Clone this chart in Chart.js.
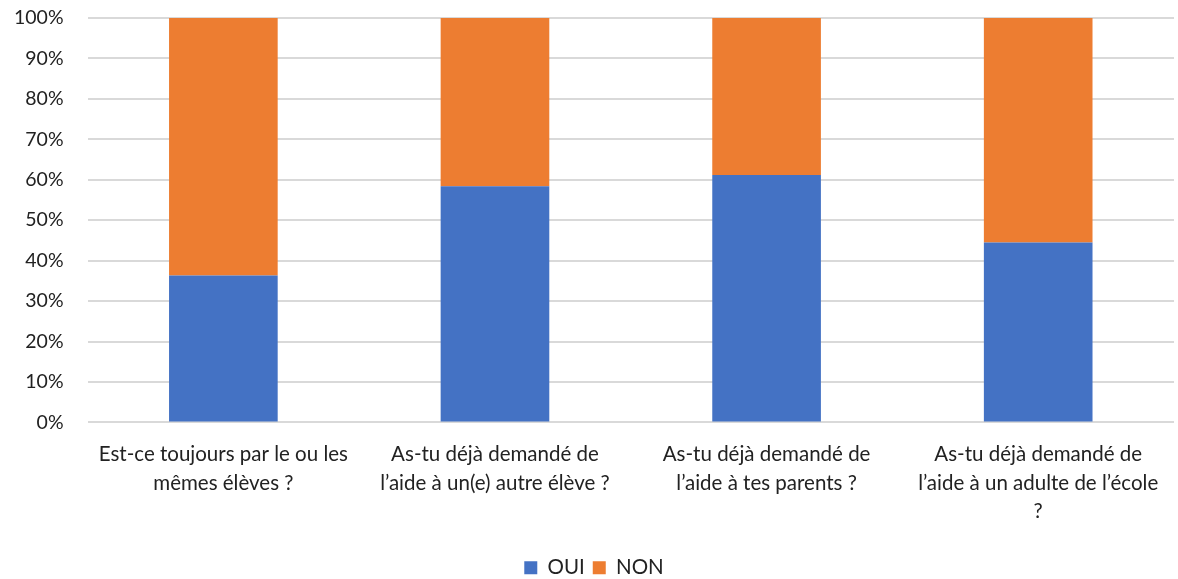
<!DOCTYPE html>
<html>
<head>
<meta charset="utf-8">
<script src="https://cdn.jsdelivr.net/npm/chart.js@4"></script>
<style>
  html, body { margin:0; padding:0; background:#fff; }
  #wrap { width:1178px; height:579px; }
</style>
</head>
<body>
<div id="wrap"><canvas id="chart"></canvas></div>
<script>
const labels = [
  ["Est-ce toujours par le ou les", "mêmes élèves ?"],
  ["As-tu déjà demandé de", "l’aide à un(e) autre élève ?"],
  ["As-tu déjà demandé de", "l’aide à tes parents ?"],
  ["As-tu déjà demandé de", "l’aide à un adulte de l’école", "?"],
];
const oui = [36.3, 58.4, 61.2, 44.5];
const non = oui.map(v => 100 - v);

const family = "Lato, 'Open Sans', sans-serif";

new Chart(document.getElementById("chart"), {
  type: "bar",
  data: {
    labels,
    datasets: [
      { label: "OUI", data: oui, backgroundColor: "#4472c4", barPercentage: 0.4, categoryPercentage: 1 },
      { label: "NON", data: non, backgroundColor: "#ed7d31", barPercentage: 0.4, categoryPercentage: 1 },
    ]
  },
  options: {
    responsive: true, maintainAspectRatio: false, animation: false,
    layout: { padding: { top: 18, right: 4, left: 14, bottom: -9 } },
    scales: {
      x: {
        stacked: true,
        afterFit: s => { s.paddingLeft = 0; s.paddingRight = 0; s.height += 14; },
        grid: { display: false },
        border: { display: false },
        ticks: { color: "#222", font: { family, size: 20.5, lineHeight: 1.4 }, maxRotation: 0, autoSkip: false, padding: 9.5 }
      },
      y: {
        stacked: true, min: 0, max: 100,
        afterFit: s => { s.paddingTop = 0; s.width -= 24; },
        ticks: { stepSize: 10, color: "#222", font: { family, size: 19.5 }, padding: 24, callback: v => v + "%" },
        grid: { color: "#d9d9d9", lineWidth: 2, drawTicks: false },
        border: { display: false }
      }
    },
    plugins: {
      legend: {
        position: "bottom",
        labels: { color: "#222", font: { family, size: 20.5 }, boxWidth: 13, boxHeight: 13, padding: 8 }
      },
      tooltip: { enabled: false }
    }
  }
});
</script>
</body>
</html>
